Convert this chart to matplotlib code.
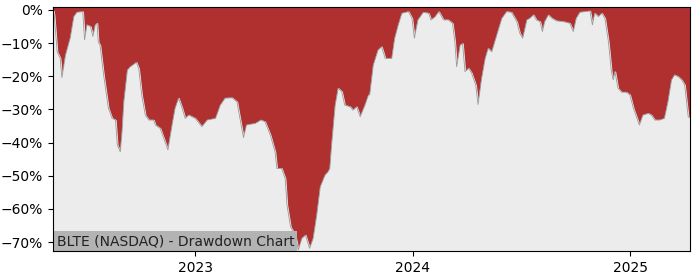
import matplotlib
matplotlib.use("Agg")
import matplotlib.pyplot as plt
import matplotlib.dates as mdates
from matplotlib.ticker import PercentFormatter
import pandas as pd
import numpy as np

dates = [
    "2022-05-07", "2022-05-09", "2022-05-14", "2022-05-19", "2022-05-22", "2022-05-28",
    "2022-06-05", "2022-06-11", "2022-06-16", "2022-06-26", "2022-06-29", "2022-07-03",
    "2022-07-09", "2022-07-13", "2022-07-17", "2022-07-20", "2022-07-22", "2022-07-25",
    "2022-07-31", "2022-08-08", "2022-08-14", "2022-08-20", "2022-08-23", "2022-08-28",
    "2022-08-31", "2022-09-03", "2022-09-09", "2022-09-14", "2022-09-24", "2022-09-28",
    "2022-10-03", "2022-10-09", "2022-10-15", "2022-10-23", "2022-10-26", "2022-11-03",
    "2022-11-09", "2022-11-16", "2022-11-23", "2022-11-28", "2022-12-04", "2022-12-10",
    "2022-12-15", "2022-12-21", "2023-01-01", "2023-01-12", "2023-01-21", "2023-02-04",
    "2023-02-12", "2023-02-20", "2023-03-04", "2023-03-12", "2023-03-17", "2023-03-23",
    "2023-03-28", "2023-04-12", "2023-04-21", "2023-04-28", "2023-05-07", "2023-05-15",
    "2023-05-18", "2023-05-26", "2023-06-01", "2023-06-04", "2023-06-10", "2023-06-18",
    "2023-06-23", "2023-06-29", "2023-07-05", "2023-07-12", "2023-07-18", "2023-07-24",
    "2023-07-30", "2023-08-07", "2023-08-12", "2023-08-15", "2023-08-18", "2023-08-24",
    "2023-08-29", "2023-09-04", "2023-09-09", "2023-09-18", "2023-09-23", "2023-09-29",
    "2023-10-05", "2023-10-13", "2023-10-19", "2023-10-21", "2023-10-27", "2023-11-04",
    "2023-11-10", "2023-11-16", "2023-11-27", "2023-12-02", "2023-12-08", "2023-12-14",
    "2023-12-25", "2023-12-31", "2024-01-04", "2024-01-10", "2024-01-19", "2024-01-28",
    "2024-02-01", "2024-02-08", "2024-02-14", "2024-02-22", "2024-03-01", "2024-03-08",
    "2024-03-12", "2024-03-15", "2024-03-21", "2024-03-25", "2024-03-29", "2024-04-04",
    "2024-04-09", "2024-04-16", "2024-04-20", "2024-04-26", "2024-05-02", "2024-05-07",
    "2024-05-13", "2024-05-18", "2024-05-24", "2024-05-30", "2024-06-07", "2024-06-15",
    "2024-06-24", "2024-06-29", "2024-07-04", "2024-07-11", "2024-07-16", "2024-07-22",
    "2024-07-27", "2024-08-02", "2024-08-06", "2024-08-10", "2024-08-16", "2024-08-22",
    "2024-08-30", "2024-09-10", "2024-09-21", "2024-09-27", "2024-10-02", "2024-10-08",
    "2024-10-25", "2024-10-29", "2024-11-02", "2024-11-08", "2024-11-14", "2024-11-19",
    "2024-11-25", "2024-11-30", "2024-12-03", "2024-12-06", "2024-12-11", "2024-12-17",
    "2024-12-25", "2024-12-31", "2025-01-06", "2025-01-12", "2025-01-16", "2025-01-22",
    "2025-01-31", "2025-02-05", "2025-02-11", "2025-02-19", "2025-02-27", "2025-03-05",
    "2025-03-11", "2025-03-16", "2025-03-22", "2025-03-28", "2025-04-02", "2025-04-08",
    "2025-04-11",
]

drawdown_pct = [
    0.0, -1.5, -12.6, -14.5, -20.4, -13.6,
    -8.4, -2.0, -0.7, -0.5, -9.0, -4.5,
    -5.0, -8.0, -4.5, -4.0, -9.6, -10.6,
    -19.6, -29.6, -32.6, -33.2, -40.7, -42.8,
    -36.7, -27.7, -18.1, -17.1, -15.8, -17.6,
    -25.6, -31.7, -33.2, -33.2, -34.7, -35.7,
    -38.7, -42.2, -34.7, -29.7, -26.6, -29.7,
    -32.7, -31.7, -32.7, -35.2, -33.2, -32.7,
    -28.7, -26.6, -26.5, -27.7, -32.7, -38.5,
    -34.7, -34.2, -33.2, -33.7, -37.7, -42.8,
    -47.8, -47.8, -50.8, -58.8, -65.4, -67.9,
    -72.4, -68.9, -67.9, -71.9, -68.9, -61.9,
    -53.3, -49.8, -48.8, -47.8, -40.7, -28.7,
    -23.6, -24.6, -28.7, -29.2, -30.2, -29.2,
    -32.2, -28.7, -25.6, -25.6, -16.6, -12.1,
    -11.1, -14.6, -14.6, -8.5, -4.5, -1.0,
    -0.5, -2.5, -8.5, -3.0, -0.7, -1.0,
    -3.0, -2.0, -0.5, -3.0, -3.0, -4.0,
    -9.6, -17.1, -10.6, -10.1, -18.6, -17.6,
    -19.0, -22.6, -28.5, -20.6, -14.6, -11.6,
    -12.6, -9.6, -6.0, -2.5, -0.5, -0.7,
    -3.5, -7.0, -8.5, -3.0, -2.5, -1.5,
    -3.0, -3.5, -6.5, -3.5, -1.5, -2.5,
    -3.3, -3.5, -4.0, -6.5, -2.5, -0.7,
    -0.3, -4.5, -1.0, -2.0, -1.0, -2.5,
    -9.6, -18.6, -21.1, -18.6, -23.6, -24.8,
    -24.8, -25.6, -29.7, -32.7, -34.7, -31.7,
    -31.2, -31.7, -33.2, -33.2, -32.7, -27.7,
    -21.1, -19.6, -20.1, -21.1, -22.6, -32.2,
    -32.5,
]

title_text = "BLTE (NASDAQ) - Drawdown Chart"
year_ticks = ["2023-01-01", "2024-01-01", "2025-01-01"]

x = pd.to_datetime(dates)
y = np.array(drawdown_pct) / 100.0

fig = plt.figure(figsize=(7.0, 2.8), dpi=100)
ax = fig.add_axes([53 / 700, 1 - 251 / 280, 637 / 700, 244 / 280])

ymin, ymax = -0.727, 0.009
ax.set_facecolor("#b03030")
ax.fill_between(x, y, ymin, color="#ececec", zorder=1)
ax.plot(x, y, color="#999999", lw=0.6, zorder=2)

ax.set_xlim(x[0], x[-1])
ax.set_ylim(ymin, ymax)
ax.yaxis.set_major_formatter(PercentFormatter(xmax=1, decimals=0))
ax.set_yticks(np.arange(0, -0.71, -0.1))
ax.set_xticks(pd.to_datetime(year_ticks))
ax.xaxis.set_major_formatter(mdates.DateFormatter("%Y"))
ax.tick_params(labelsize=10)

ax.text(0.0055, 0.012, title_text, transform=ax.transAxes, ha="left", va="bottom",
        fontsize=10, color="#222222", zorder=5,
        bbox=dict(boxstyle="square,pad=0.2", facecolor="#b3b3b3", edgecolor="none"))

for s in ax.spines.values():
    s.set_color("black")
    s.set_zorder(6)

fig.savefig("out.png", dpi=100)
